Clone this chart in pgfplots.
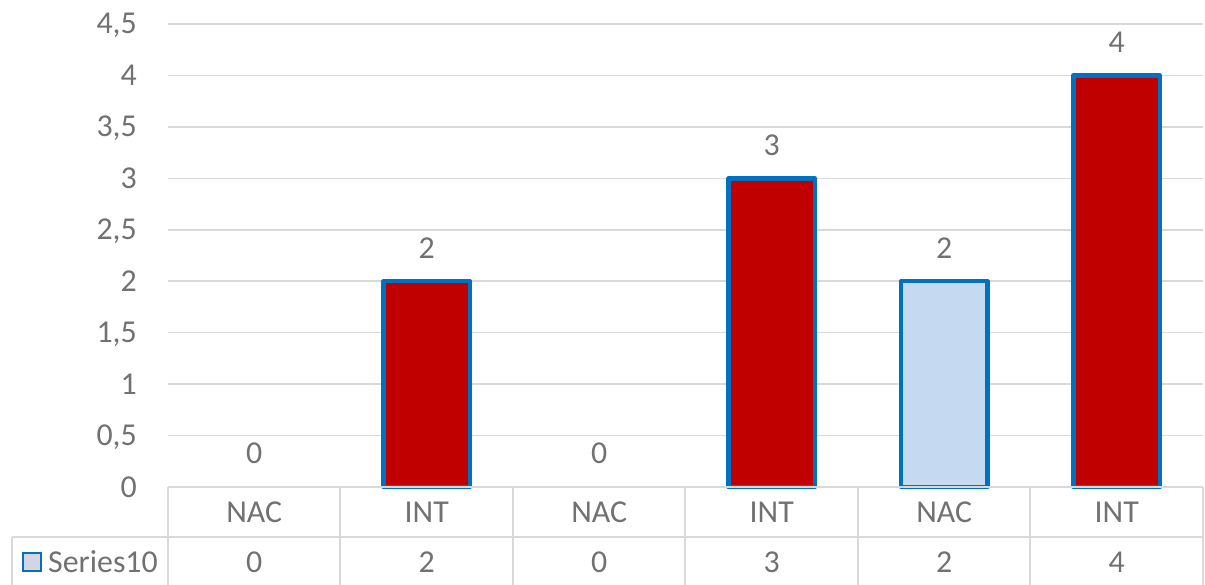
\documentclass[border=0pt]{standalone}
\usepackage{pgfplots}
\pgfplotsset{compat=1.18}
\usepackage{pgfplotstable}
\usepackage{fontspec}
\setmainfont{Carlito}
\definecolor{barred}{HTML}{C00000}
\definecolor{edgeblue}{HTML}{0070C0}
\definecolor{nacblue}{HTML}{C5D9F1}
\definecolor{gridgray}{HTML}{D9D9D9}
\definecolor{txt}{HTML}{717171}
\definecolor{keyfill}{HTML}{D3D6E2}

\pgfplotstableread{
x cat val
0 NAC 0
1 INT 2
2 NAC 0
3 INT 3
4 NAC 2
5 INT 4
}\data

\begin{document}
\begin{tikzpicture}
\path[use as bounding box] (-168bp,-98bp) rectangle (1037bp,487bp);
\begin{axis}[
  at={(0,0)}, anchor=south west,
  scale only axis, width=1035bp, height=463bp,
  xmin=-0.5, xmax=5.5, ymin=0, ymax=4.5,
  ytick={0,0.5,1,1.5,2,2.5,3,3.5,4,4.5},
  xtick={0,1,2,3,4,5}, xticklabels={NAC,INT,NAC,INT,NAC,INT},
  extra x ticks={0,1,2,3,4,5}, extra x tick labels={0,2,0,3,2,4},
  extra x tick style={xticklabel style={yshift=-50bp}, grid=none},
  ymajorgrids, xmajorgrids=false,
  grid style={gridgray, line width=1.5bp},
  axis line style={draw=none},
  major tick length=0pt, tick style={draw=none},
  /pgf/number format/use comma,
  /pgf/number format/assume math mode=true,
  tick label style={font=\fontsize{32}{38}\selectfont, text=txt},
  yticklabel style={anchor=base east, inner sep=0pt, xshift=-31bp, yshift=-10bp},
  xticklabel style={anchor=base, inner sep=0pt, yshift=-35.5bp},
  clip=false,
]
\addplot[ybar, bar width=86.25bp, bar shift=0pt, fill=nacblue, draw=edgeblue, line width=4.5bp, line join=round] coordinates {(4,2)};
\addplot[ybar, bar width=86.25bp, bar shift=0pt, fill=barred, draw=edgeblue, line width=4.5bp, line join=round] coordinates {(1,2) (3,3) (5,4)};
\addplot[draw=none, mark=none, nodes near coords, point meta=explicit symbolic,
  nodes near coords style={font=\fontsize{32}{38}\selectfont, text=txt, anchor=center, yshift=33.5bp}]
  table[x=x, y=val, meta=val]{\data};
% data table grid
\draw[gridgray, line width=2bp]
  (axis cs:-0.5,0) -- (axis cs:5.5,0)
  (axis cs:-0.5,0) -- ++(0bp,-98bp)
  (axis cs:0.5,0) -- ++(0bp,-98bp)
  (axis cs:1.5,0) -- ++(0bp,-98bp)
  (axis cs:2.5,0) -- ++(0bp,-98bp)
  (axis cs:3.5,0) -- ++(0bp,-98bp)
  (axis cs:4.5,0) -- ++(0bp,-98bp)
  (axis cs:5.5,0) -- ++(0bp,-98bp)
  ([xshift=-156bp,yshift=-50bp]axis cs:-0.5,0) -- ([yshift=-50bp]axis cs:5.5,0)
  ([xshift=-156bp,yshift=-50bp]axis cs:-0.5,0) -- ++(0bp,-48bp);
\draw[edgeblue, line width=2bp, fill=keyfill] ([xshift=-145bp,yshift=-66bp]axis cs:-0.5,0) rectangle ++(18bp,-18bp);
\node[anchor=base west, inner sep=0pt, font=\fontsize{32}{38}\selectfont, text=txt] at ([xshift=-120bp,yshift=-85.5bp]axis cs:-0.5,0) {Series10};
\end{axis}
\end{tikzpicture}
\end{document}
